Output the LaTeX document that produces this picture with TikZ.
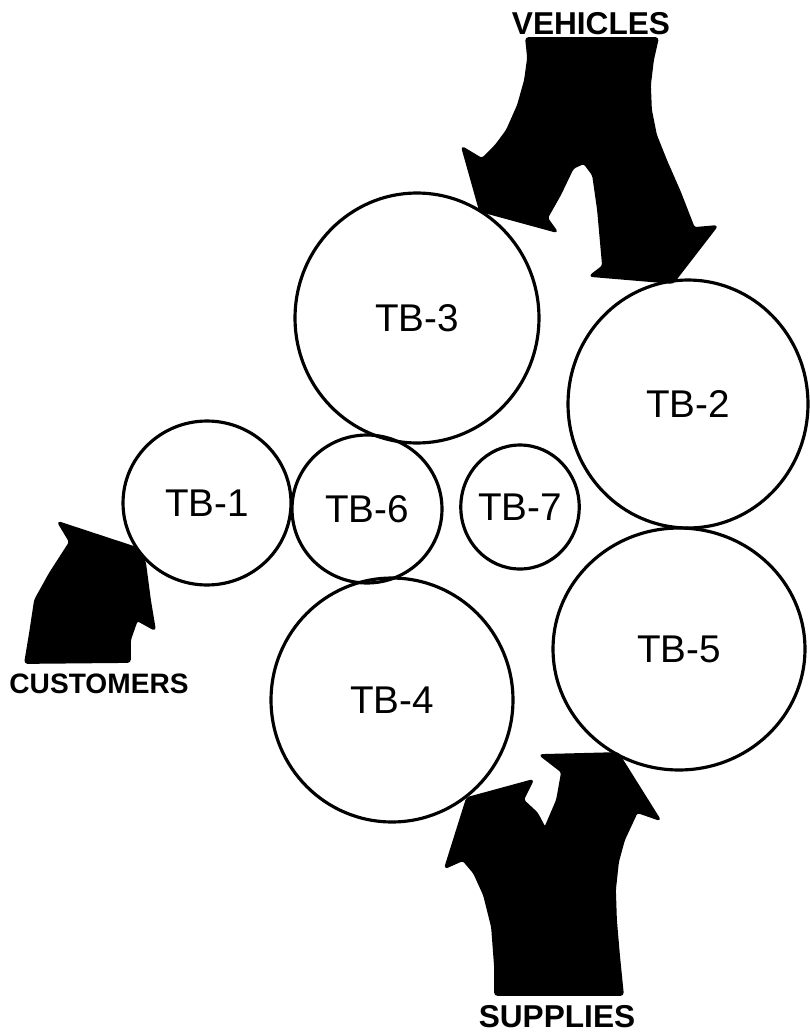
\documentclass[tikz,border=0pt]{standalone}
\usepackage{fontspec}
\setmainfont{Liberation Sans}
\usepackage{tikz}
\usetikzlibrary{shapes.geometric}

\tikzset{
  tbox/.style={draw,ellipse,inner sep=0pt,line width=1.8pt,font=\fontsize{22}{24}\selectfont},
  flow/.style={fill=black,draw=black,line width=1pt,line join=round,rounded corners=1.5pt},
  flowlabel/.style={font=\bfseries\fontsize{18}{20}\selectfont,inner sep=0pt}
}

\begin{document}
\begin{tikzpicture}[x=0.02cm,y=-0.02cm]
\useasboundingbox (0,0) rectangle (809,1034);
\node[tbox,minimum width=4.88cm,minimum height=5.0cm] (tb3) at (417,318) {TB-3};
\node[tbox,minimum width=4.8cm,minimum height=4.96cm] (tb2) at (688,404) {TB-2};
\node[tbox,minimum width=3.36cm,minimum height=3.28cm] (tb1) at (207,503) {TB-1};
\node[tbox,minimum width=3.0cm,minimum height=2.96cm] (tb6) at (367,509) {TB-6};
\node[tbox,minimum width=2.32cm,minimum height=2.48cm] (tb7) at (520,507) {TB-7};
\node[tbox,minimum width=4.84cm,minimum height=4.88cm] (tb4) at (392,700) {TB-4};
\node[tbox,minimum width=5.04cm,minimum height=4.84cm] (tb5) at (679,649) {TB-5};
\node[flowlabel] (veh) at (591,24) {VEHICLES};
\node[flowlabel,font=\bfseries\fontsize{16}{18}\selectfont] (cust) at (99,684) {CUSTOMERS};
\node[flowlabel] (sup) at (557,1017) {SUPPLIES};
\fill[flow] (526,38) -- (658,38) -- (653,60) -- (650,85) -- (651,110) -- (656,135)
  -- (666,160) -- (680,192) -- (694,228) -- (717,226) -- (673,283) -- (590,276)
  -- (603,266) -- (598,210) -- (593,175) -- (584,163) -- (573,168) -- (560,195)
  -- (547,218) -- (557,232) -- (480,211) -- (462,147) -- (482,159) -- (496,145)
  -- (507,130) -- (518,105) -- (525,80) -- (528,58) -- cycle;
\fill[flow] (495,995) -- (623,995) -- (619,955) -- (616,920) -- (615,890) -- (618,862)
  -- (624,840) -- (637,812) -- (660,820) -- (618,753) -- (540,755) -- (562,772)
  -- (557,800) -- (545,828) -- (537,813) -- (523,800) -- (533,780) -- (467,798)
  -- (445,868) -- (463,860) -- (474,873) -- (484,895) -- (492,927) -- (495,967) -- cycle;
\fill[flow] (58,522) -- (137,548) -- (145,562) -- (150,600) -- (155,630) -- (137,620)
  -- (130,640) -- (130,662) -- (25,663) -- (30,633) -- (35,600) -- (50,573) -- (70,542) -- cycle;
\end{tikzpicture}
\end{document}
